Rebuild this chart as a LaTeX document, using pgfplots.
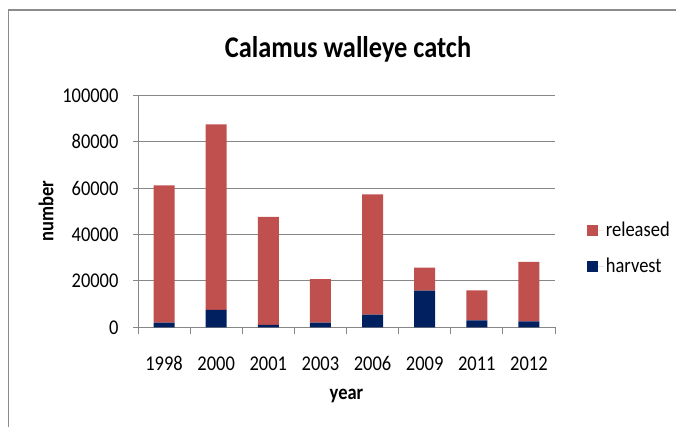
\documentclass[border=0pt]{standalone}
\usepackage{pgfplots}
\pgfplotsset{compat=1.18}
\usepackage{fontspec}
\setmainfont{Carlito}[FakeStretch=0.88]
\definecolor{relcol}{HTML}{C0504D}
\definecolor{harcol}{HTML}{002060}
\definecolor{gridgray}{HTML}{878787}
\definecolor{framegray}{HTML}{8C8C8C}
\begin{document}
\begin{tikzpicture}
\useasboundingbox (0pt,0pt) rectangle (676pt,427pt);
\draw[color=framegray, line width=1.5pt] (8.3pt,0pt) -- (8.3pt,417pt) -- (676pt,417pt);
\node[anchor=base, font=\fontsize{30}{36}\selectfont\bfseries] at (348pt,369.7pt) {Calamus walleye catch};
\begin{axis}[
  at={(138pt,99.7pt)}, anchor=south west,
  scale only axis, width=417pt, height=232pt,
  ybar stacked, bar width=21pt,
  xmin=-0.5, xmax=7.5, ymin=0, ymax=100000,
  enlargelimits=false,
  xtick={0,1,2,3,4,5,6,7},
  xticklabels={1998,2000,2001,2003,2006,2009,2011,2012},
  minor xtick={-0.5,0.5,1.5,2.5,3.5,4.5,5.5,6.5,7.5},
  ytick={0,20000,40000,60000,80000,100000},
  ymajorgrids,
  grid style={color=gridgray, line width=0.9pt},
  axis lines*=left,
  axis line style={color=gridgray, line width=0.9pt},
  tick align=outside,
  major tick length=5pt, minor tick length=7pt,
  major x tick style={draw=none},
  minor x tick style={color=gridgray, line width=0.9pt},
  y tick style={color=gridgray, line width=0.9pt},
  scaled y ticks=false,
  /pgf/number format/assume math mode=true,
  /pgf/number format/fixed,
  /pgf/number format/1000 sep={},
  tick label style={font=\fontsize{21}{25}\selectfont},
  xticklabel style={anchor=base, yshift=-38.4pt},
  yticklabel style={anchor=east, xshift=-11pt},
  xlabel={year}, ylabel={number},
  label style={font=\fontsize{21}{25}\selectfont\bfseries},
  xlabel style={at={(axis description cs:0.5,-0.313)}, anchor=base},
  ylabel style={at={(axis description cs:-0.203,0.5)}, anchor=base},
  legend style={draw=none, fill=none, at={(axis description cs:1.076,0.463)}, anchor=north west,
    font=\fontsize{21}{25}\selectfont, row sep=16pt, inner sep=0pt},
  reverse legend,
  legend cell align=left,
  legend image code/.code={\draw[#1,draw=none] (0pt,-5.5pt) rectangle (11pt,5.5pt); \path (0pt,0pt) -- (17pt,0pt);},
]
\addplot[fill=harcol, draw=none] coordinates {(0,2000) (1,7500) (2,1000) (3,2000) (4,5500) (5,15800) (6,3000) (7,2600)};
\addplot[fill=relcol, draw=none] coordinates {(0,59200) (1,80000) (2,46600) (3,18800) (4,51800) (5,9900) (6,12900) (7,25600)};
\legend{harvest,released}
\end{axis}
\end{tikzpicture}
\end{document}
